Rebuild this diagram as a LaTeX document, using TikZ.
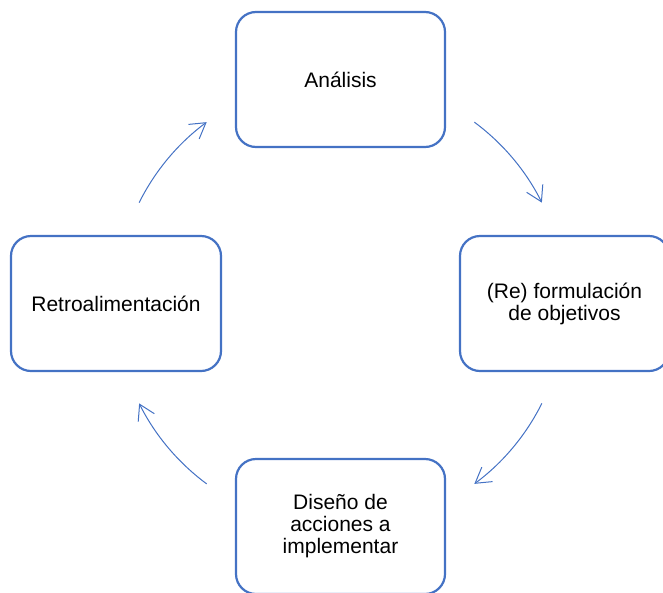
\documentclass[tikz,border=0pt]{standalone}
\usepackage{fontspec}
\setmainfont{Liberation Sans}
\usetikzlibrary{arrows.meta}
\definecolor{accblue}{HTML}{4472C4}
\begin{document}
\begin{tikzpicture}[x=1pt,y=-1pt,
  stage/.style={draw=accblue, line width=2.2pt, rounded corners=20pt,
    minimum width=209pt, minimum height=135pt, inner sep=0pt, align=center,
    font=\fontsize{21}{22}\selectfont, text=black},
  cyc/.style={draw=accblue, line width=1pt,
    -{Straight Barb[length=15pt,width=18pt,line width=1pt]}}]
\useasboundingbox (0,0) rectangle (663,592);
\clip (0,0) rectangle (663,592);
\coordinate (ctr) at (340.5,303);
\node[stage] (an) at (340.5,79.5) {Análisis};
\node[stage] (re) at (564.5,303.5) {(Re) formulación\\de objetivos};
\node[stage] (di) at (340.5,526.5) {Diseño de\\acciones a\\implementar};
\node[stage, minimum width=210pt] (rt) at (116,303.5) {Retroalimentación};
\coordinate (s1) at ([shift={(-53.5:225)}]ctr);
\coordinate (s2) at ([shift={(26.5:225)}]ctr);
\coordinate (s3) at ([shift={(126.5:225)}]ctr);
\coordinate (s4) at ([shift={(-153.5:225)}]ctr);
\draw[cyc] (s1) arc[start angle=-53.5, end angle=-26.5, radius=225];
\draw[cyc] (s2) arc[start angle=26.5, end angle=53.5, radius=225];
\draw[cyc] (s3) arc[start angle=126.5, end angle=153.5, radius=225];
\draw[cyc] (s4) arc[start angle=-153.5, end angle=-126.5, radius=225];
\end{tikzpicture}
\end{document}
